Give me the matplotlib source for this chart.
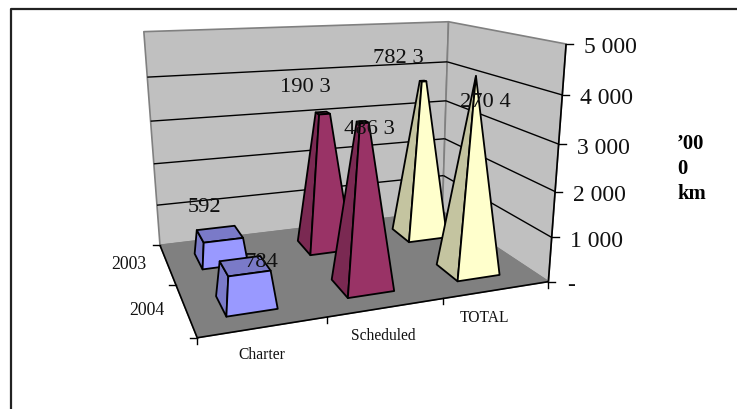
import numpy as np
import matplotlib
matplotlib.use('Agg')
import matplotlib.pyplot as plt
from matplotlib.patches import Polygon

plt.rcParams['font.family'] = ['Liberation Serif', 'DejaVu Serif']

# Chart data
categories = ['Charter', 'Scheduled', 'TOTAL']
years = ['2003', '2004']
values_2003 = [592, 3190, 3782]
values_2004 = [784, 3486, 4270]
labels_2003 = ['592', '190 3', '782 3']
labels_2004 = ['784', '486 3', '270 4']
value_ticks = [0, 1000, 2000, 3000, 4000, 5000]
value_tick_labels = ['-', '1 000', '2 000', '3 000', '4 000', '5 000']

Z_MAX = 5000
APEX = max(values_2004)
HALF_W = 0.205
HALF_D = 0.20
CENTER_X = 0.478
ROW_Y = [1.47, 0.47]

colors = ['#9999FF', '#993366', '#FFFFCC']
side_colors = ['#7A7AC8', '#7A2952', '#C4C4A0']


# Camera fitted on the chart box: (category, depth, value share) -> pixel
def fit_camera():
    box = [(0, 0, 0, 197, 340), (3, 0, 0, 548, 282), (0, 2, 0, 160, 245),
           (3, 2, 0, 442.7, 214), (0, 2, 1, 144, 33), (3, 2, 1, 448, 22),
           (3, 0, 1, 566, 45), (3, 0, 0.2, 551.7, 237), (3, 0, 0.8, 563, 97)]
    rows, rhs = [], []
    for x, y, z, u, v in box:
        rows.append([x, y, z, 1, 0, 0, 0, 0, -u * x, -u * y, -u * z])
        rows.append([0, 0, 0, 0, x, y, z, 1, -v * x, -v * y, -v * z])
        rhs += [u, v]
    p = np.linalg.lstsq(np.array(rows, float), np.array(rhs, float), rcond=None)[0]
    return np.append(p, 1).reshape(3, 4)


CAM = fit_camera()


def project(x, y, value):
    u, v, w = CAM @ np.array([x, y, value / Z_MAX, 1.0])
    return u / w, v / w


def face(ax, pts, color, edge='black', lw=1.3, z=2):
    ax.add_patch(Polygon([project(*p) for p in pts], closed=True, facecolor=color,
                         edgecolor=edge, linewidth=lw, joinstyle='round', zorder=z))


def line3(ax, a, b, color='black', lw=1.0, z=1.5):
    pa, pb = project(*a), project(*b)
    ax.plot([pa[0], pb[0]], [pa[1], pb[1]], color=color, lw=lw, zorder=z,
            solid_capstyle='butt')


# Truncated pyramid narrowing towards the largest value
def pyramid(ax, cx, cy, value, color, side):
    k = 1 - value / APEX
    x0, x1 = cx - HALF_W, cx + HALF_W
    y0, y1 = cy - HALF_D, cy + HALF_D
    tx0, tx1 = cx - HALF_W * k, cx + HALF_W * k
    ty0, ty1 = cy - HALF_D * k, cy + HALF_D * k
    face(ax, [(x0, y0, 0), (x0, y1, 0), (tx0, ty1, value), (tx0, ty0, value)], side)
    face(ax, [(tx0, ty0, value), (tx0, ty1, value), (tx1, ty1, value), (tx1, ty0, value)], side)
    face(ax, [(x0, y0, 0), (x1, y0, 0), (tx1, ty0, value), (tx0, ty0, value)], color)


fig = plt.figure(figsize=(7.37, 4.10), dpi=100)
ax = fig.add_axes([0, 0, 1, 1])
ax.set_xlim(0, 737)
ax.set_ylim(410, 0)
ax.axis('off')

# Outer frame: only the top and left edges show
ax.plot([11, 11, 737], [410, 10, 10], color='#222222', lw=1.6, zorder=0)

# Walls and floor
wall_edge = '#808080'
face(ax, [(0, 2, 0), (3, 2, 0), (3, 2, Z_MAX), (0, 2, Z_MAX)], '#C0C0C0', wall_edge, 1.2, 1)
face(ax, [(3, 2, 0), (3, 0, 0), (3, 0, Z_MAX), (3, 2, Z_MAX)], '#C0C0C0', wall_edge, 1.2, 1)
face(ax, [(0, 0, 0), (3, 0, 0), (3, 2, 0), (0, 2, 0)], '#808080', '#808080', 1.0, 1.2)

# Gridlines on both walls
for t in value_ticks[1:-1]:
    line3(ax, (0, 2, t), (3, 2, t))
    line3(ax, (3, 2, t), (3, 0, t))

# Axis lines
line3(ax, (0, 0, 0), (3, 0, 0), lw=1.2)
line3(ax, (0, 0, 0), (0, 2, 0), lw=1.2)
line3(ax, (3, 0, 0), (3, 0, Z_MAX), lw=1.2)

# Value axis ticks and labels
for t, lab in zip(value_ticks, value_tick_labels):
    u, v = project(3, 0, t)
    ax.plot([u, u + 7], [v, v], color='black', lw=1.0, zorder=1.5)
    ax.text(u + (19 if t == 0 else 18), v + 3, lab, fontsize=17, ha='left', va='center', color='#111111')

# Category ticks and labels
for i in range(4):
    u, v = project(i, 0, 0)
    ax.plot([u, u], [v, v + 6], color='black', lw=1.0, zorder=1.5)
for i, (cat, dx) in enumerate(zip(categories, [-2, -3, -13])):
    u, v = project(i + 0.5, 0, 0)
    ax.text(u + dx, v + 27, cat, fontsize=11.2, ha='center', va='center', color='#111111')

# Depth axis ticks and labels
for i in range(3):
    u, v = project(0, i, 0)
    ax.plot([u - 7, u], [v, v], color='black', lw=1.0, zorder=1.5)
for i, (yr, dy) in enumerate(zip(years, [-1, 0])):
    u, v = project(0, 1.5 - i, 0)
    ax.text(u - 21, v + dy, yr, fontsize=12.8, ha='right', va='center', color='#111111')

# Bars, back row first
for row, vals in zip(ROW_Y, [values_2003, values_2004]):
    for i in range(3):
        pyramid(ax, i + CENTER_X, row, vals[i], colors[i], side_colors[i])

# Value labels placed from the top of each bar
offsets_2003 = [(-15, -27), (-17, -27), (-25, -24)]
offsets_2004 = [(17, -4), (7, 6), (9, 25)]
for row, vals, labs, offs in zip(ROW_Y, [values_2003, values_2004], [labels_2003, labels_2004],
                                 [offsets_2003, offsets_2004]):
    for i in range(3):
        u, v = project(i + CENTER_X, row, vals[i])
        ax.text(u + offs[i][0], v + offs[i][1], labs[i], fontsize=16.2, ha='center', va='center',
                color='#111111', zorder=5)

# Unit label wrapped over three lines
for y, s in zip([144, 169, 194], ['’00', '0', 'km']):
    ax.text(677, y, s, fontsize=14.9, fontweight='bold', ha='left', va='center', color='black')

fig.savefig('out.png', dpi=100)
